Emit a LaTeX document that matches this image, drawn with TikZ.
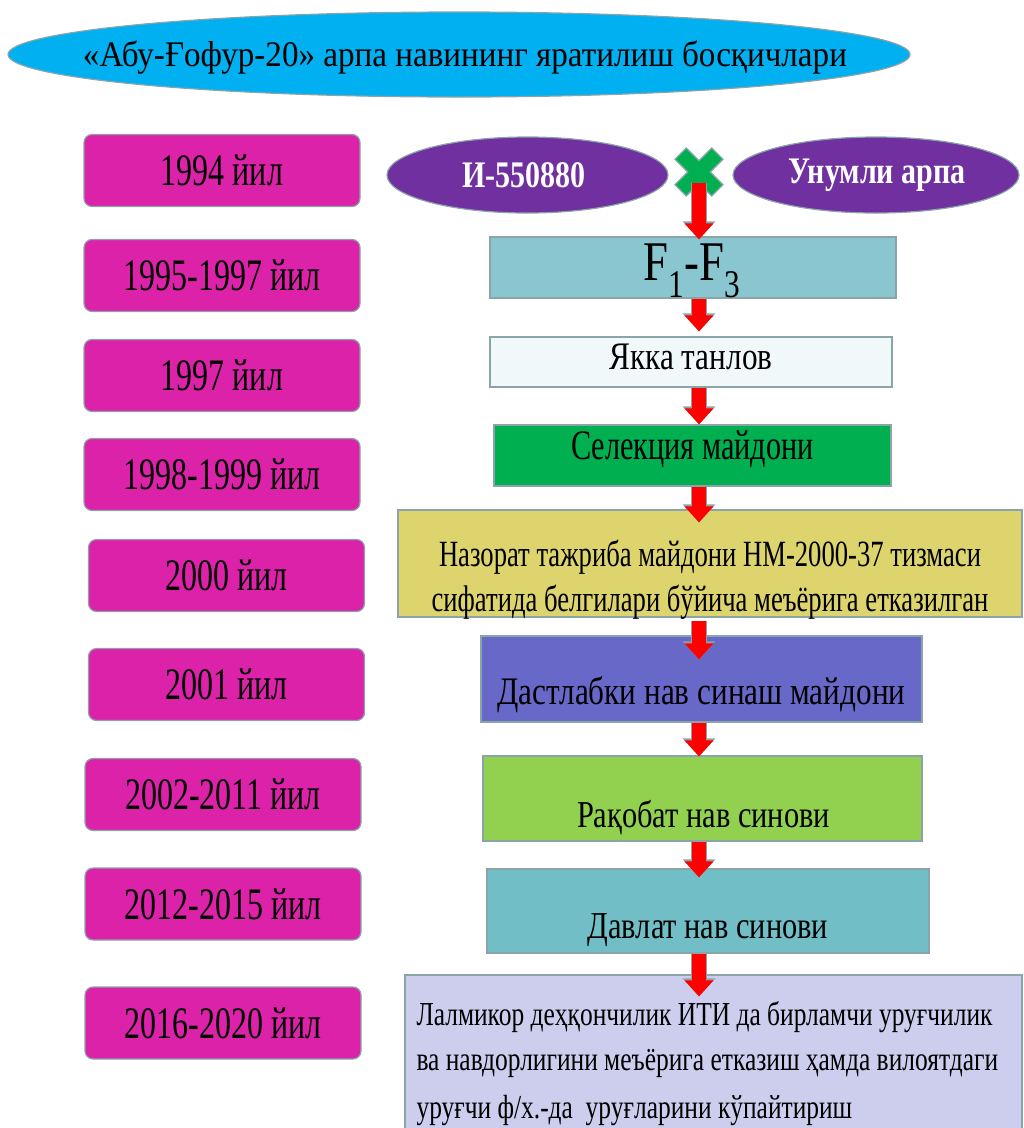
\documentclass[tikz,border=0pt]{standalone}
\usepackage{fontspec}
\setmainfont{Liberation Serif}[FakeStretch=0.8]
\newfontfamily\yearfont{Liberation Serif}[FakeStretch=0.71]
\newfontfamily\titlefont{Liberation Serif}[FakeStretch=0.92]
\newfontfamily\narrowfont{Liberation Serif}[FakeStretch=0.72]
\newfontfamily\lalfont{Liberation Serif}[FakeStretch=0.76]
\usetikzlibrary{shapes.geometric,arrows.meta}

\definecolor{skyblue}{HTML}{00B0F0}
\definecolor{yearpink}{HTML}{DD22AA}
\definecolor{parentpurple}{HTML}{7030A0}
\definecolor{crossgreen}{HTML}{00B050}
\definecolor{outline}{HTML}{8AA4AA}

\tikzset{
  yearbox/.style={draw=outline, line width=1.2pt, fill=yearpink, rounded corners=8pt,
    minimum width=276pt, minimum height=72pt, inner sep=0pt,
    font=\yearfont\fontsize{45}{50}\selectfont},
  stagebox/.style={draw=outline, line width=1.2pt, inner sep=0pt},
  parent/.style={ellipse, draw=outline, line width=1.2pt, fill=parentpurple, inner sep=0pt,
    minimum height=76pt},
  parenttext/.style={text=white, font=\bfseries\fontsize{37.5}{44}\selectfont},
  redarrow/.style={draw=red, line width=14pt, -{Triangle[width=28pt,length=16pt]},
    preaction={draw=outline, line width=16.5pt, -{Triangle[width=31.5pt,length=18pt]}}},
  stagetext/.style={font=\fontsize{38}{45}\selectfont},
  laltext/.style={font=\lalfont\fontsize{33.5}{45}\selectfont, anchor=west}
}

\begin{document}
\begin{tikzpicture}[x=1pt, y=-1pt]
\useasboundingbox (0,0) rectangle (1024,1128);

% title
\node[ellipse, draw=outline, line width=1.2pt, fill=skyblue, minimum width=902pt, minimum height=85pt]
  (title) at (459,54.5) {};
\node[font=\titlefont\fontsize{36}{44}\selectfont] (titletext) at (465,57)
  {«Абу-Ғофур-20» арпа навининг яратилиш босқичлари};

% the years on the left
\foreach \n/\x/\y/\t in {1/222/170.5/1994 йил, 2/222/275.5/1995-1997 йил, 3/222/375.5/1997 йил,
  4/222/474.5/1998-1999 йил, 5/226.5/575.5/2000 йил, 6/226.5/684.5/2001 йил,
  7/223/794.5/2002-2011 йил, 8/223/904/2012-2015 йил, 9/223/1023/2016-2020 йил}
{
  \node[yearbox] (year\n) at (\x,\y) {\t};
}

% the parents and the cross
\node[parent, minimum width=281pt] (i55) at (527.5,175) {};
\node[parenttext] at (524,175) {И-550880};
\node[parent, minimum width=286pt] (unum) at (876,175) {};
\node[parenttext] at (877,175) {Унумли арпа};

\coordinate (cross) at (699,172);
\draw[outline, line width=1.2pt, fill=crossgreen, rotate around={45:(cross)}]
  (cross) ++(8,8) -- ++(18,0) -- ++(0,-16) -- ++(-18,0) -- ++(0,-18) -- ++(-16,0)
  -- ++(0,18) -- ++(-18,0) -- ++(0,16) -- ++(18,0) -- ++(0,18) -- ++(16,0) -- cycle;
\coordinate (crossbot) at (699,183);

% the stages
\node[stagebox, fill={rgb,255:red,138;green,198;blue,208}, minimum width=406pt, minimum height=61pt]
  (f13) at (693,267.5) {};
\node[font=\fontsize{56}{60}\selectfont] at (692,271) {F\textsubscript{1}-F\textsubscript{3}};

\node[stagebox, fill={rgb,255:red,240;green,248;blue,250}, minimum width=402pt, minimum height=50pt]
  (yakka) at (691,362) {};
\node[font=\fontsize{39}{45}\selectfont] at (691,357) {Якка танлов};

\node[stagebox, fill=crossgreen, minimum width=397pt, minimum height=61pt]
  (sel) at (692.5,455.5) {};
\node[font=\narrowfont\fontsize{42}{45}\selectfont] at (692.5,449) {Селекция майдони};

\node[stagebox, fill={rgb,255:red,221;green,212;blue,110}, minimum width=624pt, minimum height=107pt]
  (naz) at (710,563.5) {};
\node[font=\narrowfont\fontsize{37}{45}\selectfont, align=center] at (710,580)
  {Назорат тажриба майдони НМ-2000-37 тизмаси\\сифатида белгилари бўйича меъёрига етказилган};

\node[stagebox, fill={rgb,255:red,104;green,104;blue,200}, minimum width=441pt, minimum height=86pt]
  (dast) at (701.5,679) {};
\node[font=\fontsize{39}{45}\selectfont] at (701.5,695) {Дастлабки нав синаш майдони};

\node[stagebox, fill={rgb,255:red,146;green,208;blue,80}, minimum width=439pt, minimum height=85pt]
  (raq) at (702.5,798.5) {};
\node[stagetext] at (703.5,818) {Рақобат нав синови};

\node[stagebox, fill={rgb,255:red,114;green,190;blue,198}, minimum width=442pt, minimum height=84pt]
  (dav) at (708,911) {};
\node[stagetext] at (708,930) {Давлат нав синови};

\node[stagebox, fill={rgb,255:red,205;green,205;blue,237}, minimum width=617pt, minimum height=155pt]
  (lal) at (713.5,1052.5) {};
\node[laltext] at (413,1017) {Лалмикор деҳқончилик ИТИ да бирламчи уруғчилик};
\node[laltext] at (413,1063) {ва навдорлигини меъёрига етказиш ҳамда вилоятдаги};
\node[laltext] at (413,1110) {уруғчи ф/х.-да\ \ уруғларини кўпайтириш};

% red arrows down the column
\draw[redarrow, shorten >=-3pt] (crossbot) -- (f13.north -| crossbot);
\draw[redarrow, shorten >=5pt] (f13.south -| crossbot) -- (yakka.north -| crossbot);
\draw[redarrow] (yakka.south -| crossbot) -- (sel.north -| crossbot);
\draw[redarrow, shorten >=-13pt] (sel.south -| crossbot) -- (naz.north -| crossbot);
\draw[redarrow, shorten <=3pt, shorten >=-24pt] (naz.south -| crossbot) -- (dast.north -| crossbot);
\draw[redarrow, shorten >=-1pt] (dast.south -| crossbot) -- (raq.north -| crossbot);
\draw[redarrow, shorten >=-9pt] (raq.south -| crossbot) -- (dav.north -| crossbot);
\draw[redarrow, shorten >=-22pt] (dav.south -| crossbot) -- (lal.north -| crossbot);

\end{tikzpicture}
\end{document}
